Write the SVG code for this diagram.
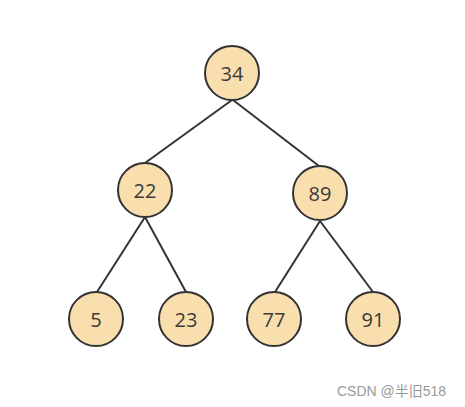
<svg xmlns="http://www.w3.org/2000/svg" width="465" height="407" viewBox="0 0 465 407">
<style>
.n circle{fill:#f9dfae;stroke:#333;stroke-width:2}
.n text{font-family:"Open Sans","Noto Sans",sans-serif;font-size:20px;fill:#3a3a3a;text-anchor:middle;dominant-baseline:central}
#edges line{stroke:#333;stroke-width:2}
.wm{font-family:"Liberation Sans","Noto Sans CJK SC",sans-serif;font-size:14px;fill:#9a9a9a}
</style>
<rect width="465" height="407" fill="#fff"/>
<g id="edges">
<line x1="232" y1="100" x2="145" y2="163"/>
<line x1="233" y1="100" x2="319" y2="166"/>
<line x1="145" y1="217" x2="97" y2="292"/>
<line x1="145" y1="217" x2="186" y2="292"/>
<line x1="320" y1="221" x2="275" y2="292"/>
<line x1="320" y1="221" x2="373" y2="292"/>
</g>
<g id="n34" class="n"><circle cx="232" cy="73" r="27"/><text x="232" y="73">34</text></g>
<g id="n22" class="n"><circle cx="145" cy="190" r="27"/><text x="145" y="190">22</text></g>
<g id="n89" class="n"><circle cx="320" cy="193" r="27"/><text x="320" y="193">89</text></g>
<g id="n5" class="n"><circle cx="96" cy="319" r="27"/><text x="96" y="319">5</text></g>
<g id="n23" class="n"><circle cx="186" cy="319" r="27"/><text x="186" y="319">23</text></g>
<g id="n77" class="n"><circle cx="274" cy="319" r="27"/><text x="274" y="319">77</text></g>
<g id="n91" class="n"><circle cx="373" cy="319" r="27"/><text x="373" y="319">91</text></g>
<text class="wm" x="337" y="396">CSDN @半旧518</text>
</svg>
